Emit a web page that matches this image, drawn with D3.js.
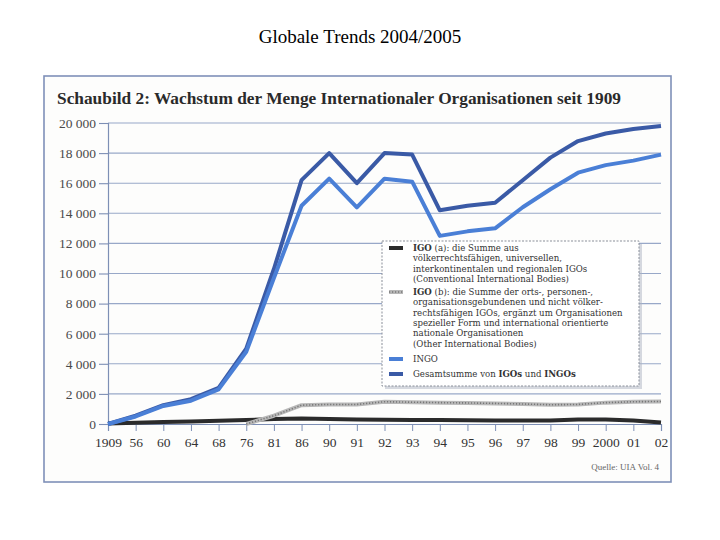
<!DOCTYPE html>
<html><head><meta charset="utf-8">
<script src="https://cdn.jsdelivr.net/npm/d3@7"></script>
<style>
html,body{margin:0;padding:0;background:#fff;}
svg{display:block;}
</style></head>
<body>
<svg id="chart" width="720" height="540"></svg>
<script>
// ---- data ----
const categories = ["1909","56","60","64","68","76","81","86","90","91","92","93","94","95","96","97","98","99","2000","01","02"];
const igoA  = [40, 90, 130, 170, 210, 260, 330, 360, 330, 300, 290, 270, 260, 250, 240, 240, 240, 300, 300, 240, 100];
const igoB  = [null, null, null, null, null, 0, 550, 1250, 1300, 1300, 1480, 1450, 1420, 1400, 1370, 1330, 1280, 1300, 1420, 1480, 1500];
const ingo  = [0, 500, 1200, 1550, 2300, 4800, 9700, 14500, 16300, 14400, 16300, 16100, 12500, 12800, 13000, 14400, 15600, 16700, 17200, 17500, 17900];
const total = [0, 550, 1250, 1650, 2400, 5000, 10300, 16200, 18000, 16000, 18000, 17900, 14200, 14500, 14700, 16200, 17700, 18800, 19300, 19600, 19800];
const yTicks = [0, 2000, 4000, 6000, 8000, 10000, 12000, 14000, 16000, 18000, 20000];

const pageTitle = "Globale Trends 2004/2005";
const chartTitle = "Schaubild 2: Wachstum der Menge Internationaler Organisationen seit 1909";
const sourceText = "Quelle: UIA Vol. 4";

const svg = d3.select("#chart");
const serif = "'Liberation Serif', 'Times New Roman', serif";
const wideSerif = "'DejaVu Serif', serif";

// page title
svg.append("text").attr("x", 360).attr("y", 43).attr("text-anchor", "middle")
  .attr("font-family", serif).attr("font-size", 19).attr("fill", "#000").text(pageTitle);

// scanned figure frame
svg.append("rect").attr("x", 44).attr("y", 76).attr("width", 627).attr("height", 406)
  .attr("fill", "#fdfdfc").attr("stroke", "#7f90b8").attr("stroke-width", 1.6);

// chart title
svg.append("text").attr("x", 57).attr("y", 104)
  .attr("font-family", serif).attr("font-weight", "bold").attr("font-size", 16.5)
  .attr("fill", "#2a2a2a").attr("textLength", 564).attr("lengthAdjust", "spacingAndGlyphs")
  .text(chartTitle);

// scales
const x = d3.scalePoint().domain(categories).range([108, 661]);
const y = d3.scaleLinear().domain([0, 20000]).range([424, 123]);

const loc = d3.formatLocale({decimal: ",", thousands: " ", grouping: [3], currency: ["", ""]});
const fmt = loc.format(",");

// gridlines
svg.append("g").selectAll("line").data(yTicks.filter(d => d > 0)).join("line")
  .attr("x1", 108).attr("x2", 661).attr("y1", d => y(d)).attr("y2", d => y(d))
  .attr("stroke", "#98a8c8").attr("stroke-width", 1.1);

// y axis
const yAxis = svg.append("g").attr("transform", "translate(108,0)")
  .call(d3.axisLeft(y).tickValues(yTicks).tickSize(9).tickPadding(3).tickFormat(fmt));
yAxis.select(".domain").attr("stroke", "#7d8fb5").attr("stroke-width", 1.2);
yAxis.selectAll(".tick line").attr("stroke", "#7d8fb5").attr("stroke-width", 1.1);
yAxis.selectAll(".tick text").attr("font-family", serif).attr("font-size", 13.5).attr("fill", "#4a4a4a");

// x axis
const xAxis = svg.append("g").attr("transform", "translate(0,424)")
  .call(d3.axisBottom(x).tickSize(7).tickPadding(6));
xAxis.select(".domain").attr("stroke", "#7d8fb5").attr("stroke-width", 1.2);
xAxis.selectAll(".tick line").attr("stroke", "#7d8fb5").attr("stroke-width", 1);
xAxis.selectAll(".tick text").attr("font-family", serif).attr("font-size", 13.5).attr("fill", "#333");

// lines
const mk = arr => d3.line().defined((d, i) => arr[i] !== null)
  .x((d, i) => x(categories[i])).y((d, i) => y(arr[i]));

const lines = svg.append("g").attr("fill", "none").attr("stroke-linejoin", "round");
lines.append("path").attr("d", mk(igoA)(igoA)).attr("stroke", "#2b2b2b").attr("stroke-width", 4);
lines.append("path").attr("d", mk(igoB)(igoB)).attr("stroke", "#b8b8b8").attr("stroke-width", 4);
lines.append("path").attr("d", mk(igoB)(igoB)).attr("stroke", "#777").attr("stroke-width", 1.6).attr("stroke-dasharray", "1.2,1.8");
lines.append("path").attr("d", mk(total)(total)).attr("stroke", "#3a5aa6").attr("stroke-width", 4);
lines.append("path").attr("d", mk(ingo)(ingo)).attr("stroke", "#4a7fd6").attr("stroke-width", 4);

// legend
const lg = svg.append("g");
lg.append("rect").attr("x", 385).attr("y", 244).attr("width", 257).attr("height", 145)
  .attr("fill", "#aeb4c2").attr("opacity", 0.5);
lg.append("rect").attr("x", 382).attr("y", 241).attr("width", 257).attr("height", 145)
  .attr("fill", "#fff").attr("stroke", "#8a8f9a").attr("stroke-width", 1).attr("stroke-dasharray", "2,1.5");

const legendItems = [
  {color: "#2b2b2b", pattern: false, y: 251, lines: [
    [["IGO", true], [" (a): die Summe aus", false]],
    [["völkerrechtsfähigen, universellen,", false]],
    [["interkontinentalen und regionalen IGOs", false]],
    [["(Conventional International Bodies)", false]]]},
  {color: "#b8b8b8", pattern: true, y: 295, lines: [
    [["IGO", true], [" (b): die Summe der orts-, personen-,", false]],
    [["organisationsgebundenen und nicht völker-", false]],
    [["rechtsfähigen IGOs, ergänzt um Organisationen", false]],
    [["spezieller Form und international orientierte", false]],
    [["nationale Organisationen", false]],
    [["(Other International Bodies)", false]]]},
  {color: "#4a7fd6", pattern: false, y: 362, lines: [[["INGO", false]]]},
  {color: "#3a5aa6", pattern: false, y: 377, lines: [
    [["Gesamtsumme von ", false], ["IGOs", true], [" und ", false], ["INGOs", true]]]}
];
legendItems.forEach(it => {
  lg.append("line").attr("x1", 389).attr("x2", 403).attr("y1", it.y - 3).attr("y2", it.y - 3)
    .attr("stroke", it.color).attr("stroke-width", 4);
  if (it.pattern) {
    lg.append("line").attr("x1", 389).attr("x2", 403).attr("y1", it.y - 3).attr("y2", it.y - 3)
      .attr("stroke", "#777").attr("stroke-width", 1.4).attr("stroke-dasharray", "1.2,1.8");
  }
  it.lines.forEach((ln, k) => {
    const t = lg.append("text").attr("x", 413).attr("y", it.y + k * 10.3)
      .attr("font-family", wideSerif).attr("font-size", 8.6).attr("fill", "#333");
    ln.forEach(([s, b]) => t.append("tspan").attr("font-weight", b ? "bold" : "normal").text(s));
  });
});

// source
svg.append("text").attr("x", 659).attr("y", 470).attr("text-anchor", "end")
  .attr("font-family", serif).attr("font-size", 9).attr("fill", "#666").text(sourceText);
</script>
</body></html>
